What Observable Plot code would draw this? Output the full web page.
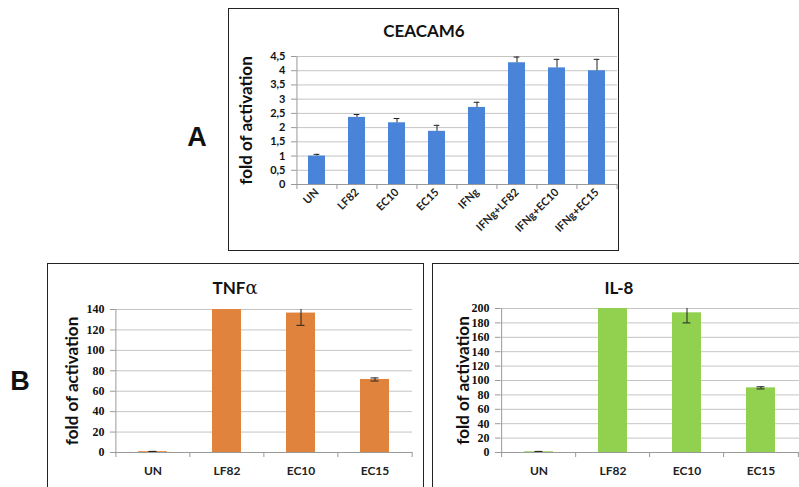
<!DOCTYPE html>
<html><head><meta charset="utf-8">
<script src="https://cdn.jsdelivr.net/npm/d3@7"></script>
<script src="https://cdn.jsdelivr.net/npm/@observablehq/plot@0.6"></script>
<style>
body{margin:0;background:#fff;}
#page{position:relative;width:799px;height:487px;overflow:hidden;background:#fff;font-family:Lato,"Open Sans",sans-serif;}
.box{position:absolute;border:1.6px solid #222;box-sizing:border-box;}
.abs{position:absolute;}
.title{position:absolute;font-weight:bold;font-size:17px;transform:translate(-50%,-50%);white-space:nowrap;color:#111;}
.letter{position:absolute;font-family:"Liberation Sans",Arial,sans-serif;font-weight:bold;font-size:27px;transform:translate(-50%,-50%);color:#111;}
</style></head>
<body>
<div id="page">
  <div class="box" style="left:228px;top:8px;width:391px;height:243px"></div>
  <div class="box" style="left:47px;top:263px;width:377px;height:240px"></div>
  <div class="box" style="left:432px;top:263px;width:380px;height:240px"></div>
  <div class="letter" style="left:197px;top:137px">A</div>
  <div class="letter" style="left:20px;top:381px">B</div>
  <div class="title" style="left:424px;top:30px">CEACAM6</div>
  <div class="title" style="left:235px;top:287px">TNF<span style="font-family:'DejaVu Serif',serif;font-weight:normal;font-size:18px">α</span></div>
  <div class="title" style="left:619px;top:287px">IL-8</div>
  <div id="pA" class="abs" style="left:229px;top:9px"></div>
  <div id="pT" class="abs" style="left:48px;top:265px"></div>
  <div id="pI" class="abs" style="left:434px;top:265px"></div>
</div>
<script>
// ---- Data ----
const catsA = ["UN","LF82","EC10","EC15","IFNg","IFNg+LF82","IFNg+EC10","IFNg+EC15"];
const valsA = [1.0, 2.36, 2.17, 1.87, 2.71, 4.28, 4.1, 4.0];
const errA  = [0.06, 0.1, 0.15, 0.21, 0.18, 0.2, 0.3, 0.4];
const ticksA = [0,0.5,1,1.5,2,2.5,3,3.5,4,4.5];

const catsB = ["UN","LF82","EC10","EC15"];
const valsTNF = [0.8, 140, 136.5, 71.5];
const errTNF  = [0.3, 0, 12, 1.5];
const ticksTNF = [0,20,40,60,80,100,120,140];

const valsIL8 = [1.0, 200, 194, 89.8];
const errIL8  = [0.5, 0, 14, 1.5];
const ticksIL8 = [0,20,40,60,80,100,120,140,160,180,200];

const yLabel = "fold of activation";

function panel(o){
  const data = o.cats.map((c,i)=>({cat:c, v:o.vals[i], e:o.errs[i]}));
  const step = (o.width - o.ml - o.mr) / o.cats.length;
  const bw = step * (1 - o.pad);
  const capInset = Math.max(0,(bw - o.cap)/2);
  const axisCol = "#9a9a9a";
  const withErr = data.filter(d=>d.e>0);
  const marks = [
    Plot.gridY(o.ticks, {stroke:"#c4c4c4", strokeOpacity:1}),
    Plot.barY(data, {x:"cat", y:"v", fill:o.color}),
    Plot.ruleX(withErr, {x:"cat", y1:d=>o.plusOnly ? d.v : d.v-d.e, y2:d=>d.v+d.e, stroke:"#222", strokeWidth:1, clip:true}),
    Plot.tickY(withErr, {x:"cat", y:d=>d.v+d.e, stroke:"#222", strokeWidth:1, insetLeft:capInset, insetRight:capInset, clip:true}),
    o.plusOnly ? null : Plot.tickY(withErr, {x:"cat", y:d=>d.v-d.e, stroke:"#222", strokeWidth:1, insetLeft:capInset, insetRight:capInset}),
    // axis lines
    Plot.ruleY([0], {stroke:axisCol, strokeWidth:1}),
    Plot.ruleX([o.cats[0]], {x:d=>d, dx:-step/2, y1:0, y2:o.ticks[o.ticks.length-1], stroke:axisCol}),
    // category boundary tick marks
    Plot.ruleX(o.cats, {x:d=>d, dx:-step/2, y1:0, y2:0, insetTop:5, stroke:axisCol}),
    Plot.ruleX([o.cats[o.cats.length-1]], {x:d=>d, dx:step/2, y1:0, y2:0, insetTop:5, stroke:axisCol}),
    Plot.axisY({ticks:o.ticks, tickSize:5, tickPadding:o.yPad, tickFormat:o.fmt, stroke:axisCol, fill:"#111",
      fontSize:o.yFont, fontWeight:"bold", fontFamily:o.yFamily, label:null}),
    Plot.axisX({tickSize:0, tickPadding:o.xPad, tickRotate:o.rot, fontSize:o.xFont, fontWeight:"bold",
      fontFamily:"Lato, sans-serif", fill:"#222", label:null}),
    Plot.text([yLabel], {text:d=>d, frameAnchor:"left", textAnchor:"middle", rotate:-90, dx:o.labDx, fontSize:17, fontWeight:"bold",
      fontFamily:"Lato, sans-serif", fill:"#111"})
  ].filter(Boolean);
  const chart = Plot.plot({
    width:o.width, height:o.height,
    marginLeft:o.ml, marginRight:o.mr, marginTop:o.mt, marginBottom:o.mb,
    style:{background:"transparent", overflow:"visible"},
    x:{domain:o.cats, paddingInner:o.pad, paddingOuter:o.pad/2, axis:null},
    y:{domain:[0,o.ticks[o.ticks.length-1]], axis:null},
    marks
  });
  document.getElementById(o.el).appendChild(chart);
}

panel({el:"pA", width:388, height:241, ml:67, mr:0, mt:47, mb:66,
  cats:catsA, vals:valsA, errs:errA, ticks:ticksA, color:"#4a84d8", pad:0.57, cap:6, plusOnly:true,
  fmt:d=>String(d).replace(".", ","), yFont:11, yFamily:"Lato, sans-serif", yPad:6,
  rot:-45, xFont:11, xPad:6, labDx:-50});

panel({el:"pT", width:375, height:222, ml:67, mr:11, mt:44, mb:35,
  cats:catsB, vals:valsTNF, errs:errTNF, ticks:ticksTNF, color:"#e0833c", pad:0.61, cap:8,
  fmt:d=>String(d), yFont:12, yFamily:"'Liberation Serif', serif", yPad:6,
  rot:0, xFont:12, xPad:14, labDx:-43});

panel({el:"pI", width:365, height:222, ml:66, mr:0, mt:43, mb:35,
  cats:catsB, vals:valsIL8, errs:errIL8, ticks:ticksIL8, color:"#92d050", pad:0.61, cap:8,
  fmt:d=>String(d), yFont:12, yFamily:"'Liberation Serif', serif", yPad:6,
  rot:0, xFont:12, xPad:14, labDx:-37});
</script>
</body></html>
